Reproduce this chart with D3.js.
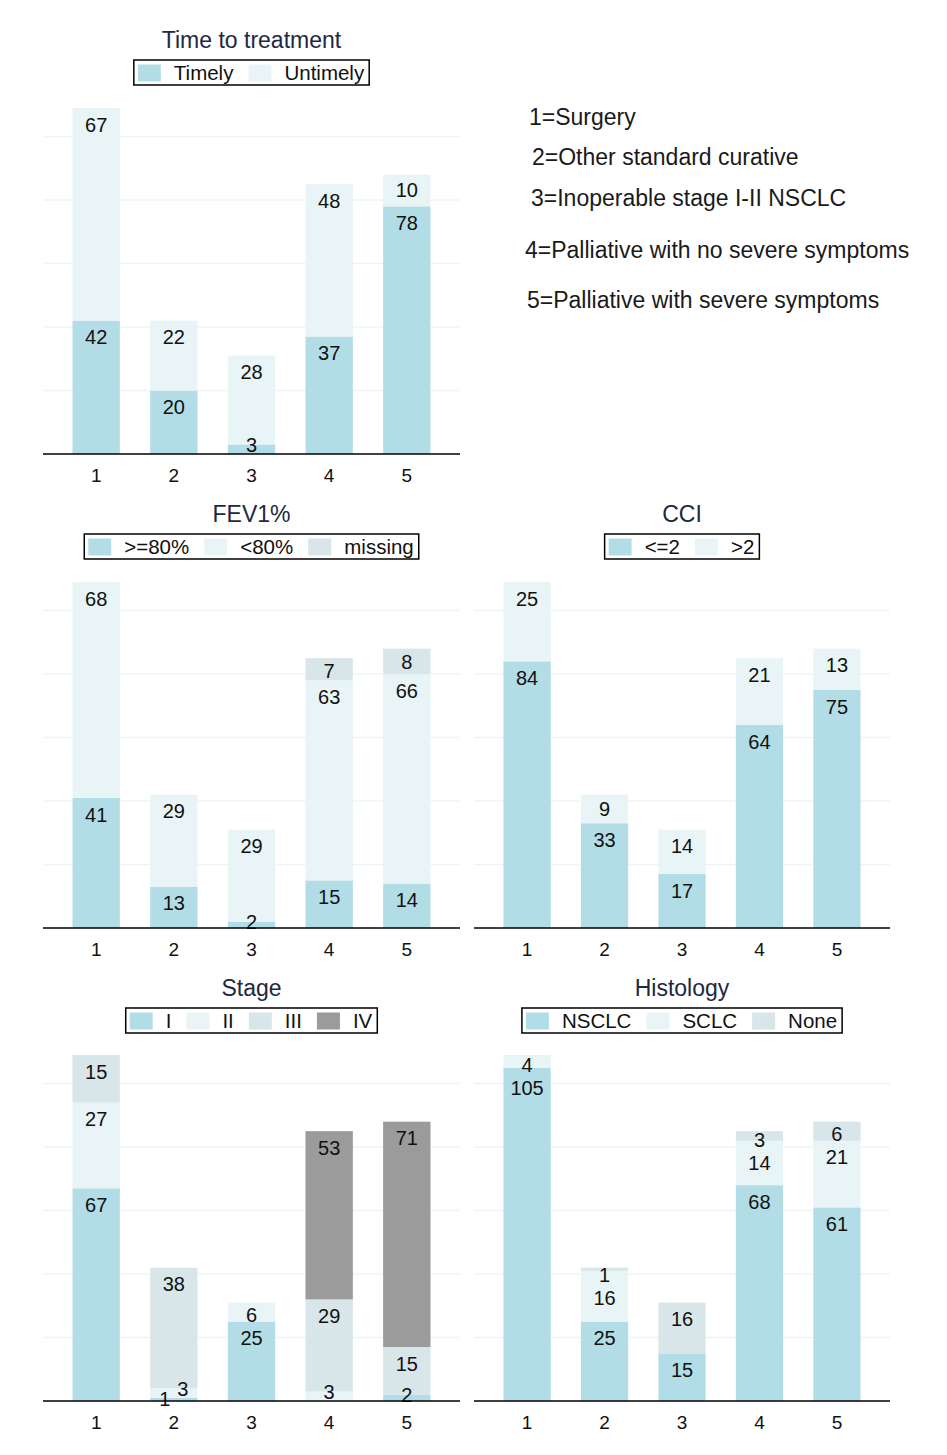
<!DOCTYPE html>
<html>
<head>
<meta charset="utf-8">
<script src="https://cdn.jsdelivr.net/npm/d3@7"></script>
<style>
  html, body { margin: 0; padding: 0; background: #ffffff; }
  svg { display: block; font-family: "Liberation Sans", Arial, Helvetica, sans-serif; }
</style>
</head>
<body>
<svg id="chart" width="947" height="1455"></svg>
<script>
// ---------------- DATA ----------------
const categories = ["1", "2", "3", "4", "5"];

const timeKeys = ["Timely", "Untimely"];
const timeTimely = [42, 20, 3, 37, 78];
const timeUntimely = [67, 22, 28, 48, 10];

const fevKeys = [">=80%", "<80%", "missing"];
const fevHigh = [41, 13, 2, 15, 14];
const fevLow = [68, 29, 29, 63, 66];
const fevMissing = [0, 0, 0, 7, 8];

const cciKeys = ["<=2", ">2"];
const cciLow = [84, 33, 17, 64, 75];
const cciHigh = [25, 9, 14, 21, 13];

const stageKeys = ["I", "II", "III", "IV"];
const stageI = [67, 1, 25, 0, 2];
const stageII = [27, 3, 6, 3, 0];
const stageIII = [15, 38, 0, 29, 15];
const stageIV = [0, 0, 0, 53, 71];

const histKeys = ["NSCLC", "SCLC", "None"];
const histNSCLC = [105, 25, 15, 68, 61];
const histSCLC = [4, 16, 0, 14, 21];
const histNone = [0, 1, 16, 3, 6];

const treatmentNotes = [
  "1=Surgery",
  "2=Other standard curative",
  "3=Inoperable stage I-II NSCLC",
  "4=Palliative with no severe symptoms",
  "5=Palliative with severe symptoms"
];

// ---------------- STYLE ----------------
const palette = ["#b3dde6", "#e9f4f6", "#d9e6e9", "#9b9b9b"];
const titleColor = "#1d2842";
const svg = d3.select("#chart");

const allTotals = [
  categories.map((c, i) => timeTimely[i] + timeUntimely[i]),
  categories.map((c, i) => fevHigh[i] + fevLow[i] + fevMissing[i]),
  categories.map((c, i) => cciLow[i] + cciHigh[i]),
  categories.map((c, i) => stageI[i] + stageII[i] + stageIII[i] + stageIV[i]),
  categories.map((c, i) => histNSCLC[i] + histSCLC[i] + histNone[i])
].flat();
const yMax = d3.max(allTotals);

function drawPanel(cfg) {
  const { title, keys, series, x0, x1, baseline, rowTop } = cfg;
  const g = svg.append("g");
  const cx = (x0 + x1) / 2;
  const plotH = 346;

  const rows = categories.map((c, i) => {
    const o = { cat: c };
    keys.forEach((k, j) => o[k] = series[j][i]);
    return o;
  });

  const x = d3.scaleBand().domain(categories).range([x0, x1])
    .paddingInner(0.39).paddingOuter(0.38);
  const y = d3.scaleLinear().domain([0, yMax]).range([baseline, baseline - plotH]);

  // gridlines
  g.append("g").selectAll("line")
    .data(y.ticks(6).filter(t => t > 0))
    .join("line")
    .attr("x1", x0).attr("x2", x1)
    .attr("y1", d => y(d)).attr("y2", d => y(d))
    .attr("stroke", "#eef4f5").attr("stroke-width", 1.5);

  // stacked bars
  const stacked = d3.stack().keys(keys)(rows);
  stacked.forEach((layer, j) => {
    g.append("g").selectAll("rect")
      .data(layer.filter(d => d[1] - d[0] > 0))
      .join("rect")
      .attr("x", d => x(d.data.cat))
      .attr("width", x.bandwidth())
      .attr("y", d => y(d[1]))
      .attr("height", d => y(d[0]) - y(d[1]))
      .attr("fill", palette[j]);
  });

  // value labels
  categories.forEach((c, i) => {
    const segs = [];
    stacked.forEach(layer => {
      const d = layer[i];
      const v = d[1] - d[0];
      if (v > 0) segs.push({ v, top: y(d[1]), h: y(d[0]) - y(d[1]) });
    });
    const labs = segs.map((s, idx) => {
      const isTop = idx === segs.length - 1;
      let off;
      if (isTop) off = Math.min(16.5, 6 + 0.3 * s.h);
      else off = s.h < 14 ? 0.5 : 16.5;
      return { v: s.v, cy: s.top + off, dx: 0 };
    });
    for (let k = labs.length - 2; k >= 0; k--) {
      const prev = labs[k + 1];
      const cur = labs[k];
      if (cur.cy - prev.cy < 23) {
        const pushed = prev.cy + 23;
        if (pushed < baseline - 6) cur.cy = pushed;
        else { prev.dx = 9; cur.dx = -9; }
      }
    }
    const bx = x(c) + x.bandwidth() / 2;
    labs.forEach(l => {
      g.append("text")
        .attr("x", bx + l.dx)
        .attr("y", l.cy + 7.2)
        .attr("text-anchor", "middle")
        .attr("font-size", 20)
        .attr("fill", "#111")
        .text(l.v);
    });
  });

  // x axis
  const ax = g.append("g").attr("transform", `translate(0,${baseline})`)
    .call(d3.axisBottom(x).tickSize(0).tickPadding(14));
  ax.select(".domain").remove();
  ax.append("line").attr("x1", x0).attr("x2", x1)
    .attr("stroke", "#000").attr("stroke-width", 1.6);
  ax.selectAll(".tick text")
    .attr("font-size", 19)
    .attr("font-family", "Liberation Sans, Arial, sans-serif")
    .attr("fill", "#111")
    .attr("dy", "0.72em");

  // title
  g.append("text")
    .attr("x", cx).attr("y", rowTop + 48)
    .attr("text-anchor", "middle")
    .attr("font-size", 23)
    .attr("fill", titleColor)
    .text(title);

  // legend
  const lg = g.append("g");
  const boxTop = rowTop + 60, boxH = 25;
  const pad = 4, sw = 23, gapT = 13, gapI = 15;
  let cur = pad;
  keys.forEach((k, j) => {
    lg.append("rect").attr("x", cur).attr("y", boxTop + 4.5)
      .attr("width", sw).attr("height", 17).attr("fill", palette[j]);
    const t = lg.append("text").attr("x", cur + sw + gapT).attr("y", boxTop + 20)
      .attr("font-size", 20.5).attr("fill", "#111").text(k);
    const w = t.node().getComputedTextLength();
    cur += sw + gapT + w + (j < keys.length - 1 ? gapI : 0);
  });
  const totalW = cur + pad + 1;
  lg.insert("rect", ":first-child")
    .attr("x", 0).attr("y", boxTop).attr("width", totalW).attr("height", boxH)
    .attr("fill", "#fff").attr("stroke", "#000").attr("stroke-width", 1.5);
  lg.attr("transform", `translate(${cx - totalW / 2},0)`);
}

const leftX = [43, 460], rightX = [474, 890];

drawPanel({ title: "Time to treatment", keys: timeKeys, series: [timeTimely, timeUntimely],
  x0: leftX[0], x1: leftX[1], baseline: 454, rowTop: 0 });
drawPanel({ title: "FEV1%", keys: fevKeys, series: [fevHigh, fevLow, fevMissing],
  x0: leftX[0], x1: leftX[1], baseline: 928, rowTop: 474 });
drawPanel({ title: "CCI", keys: cciKeys, series: [cciLow, cciHigh],
  x0: rightX[0], x1: rightX[1], baseline: 928, rowTop: 474 });
drawPanel({ title: "Stage", keys: stageKeys, series: [stageI, stageII, stageIII, stageIV],
  x0: leftX[0], x1: leftX[1], baseline: 1401, rowTop: 948 });
drawPanel({ title: "Histology", keys: histKeys, series: [histNSCLC, histSCLC, histNone],
  x0: rightX[0], x1: rightX[1], baseline: 1401, rowTop: 948 });

// treatment notes
const noteY = [125, 165, 206, 258, 308];
const noteX = [529, 532, 531, 525, 527];
svg.append("g").selectAll("text")
  .data(treatmentNotes)
  .join("text")
  .attr("x", (d, i) => noteX[i])
  .attr("y", (d, i) => noteY[i])
  .attr("font-size", 23)
  .attr("fill", "#1a1a1a")
  .text(d => d);
</script>
</body>
</html>
